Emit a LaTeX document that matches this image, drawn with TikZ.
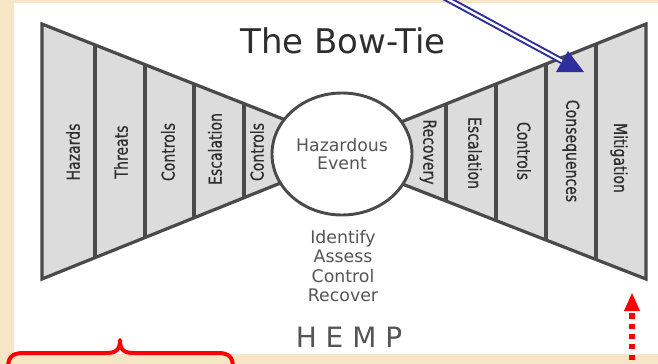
\documentclass[tikz,border=0pt]{standalone}
\usepackage{fontspec}
\setmainfont{DejaVu Sans}
\newfontfamily\narrowface{DejaVu Sans}[FakeStretch=0.78,FakeBold=0.6]
\usetikzlibrary{shapes.geometric}

\definecolor{paper}{HTML}{F6E6C6}
\definecolor{ink}{HTML}{4A4A4A}
\definecolor{bowfill}{HTML}{DCDCDC}
\definecolor{txt}{HTML}{2E2E2E}
\definecolor{softtxt}{HTML}{555555}
\definecolor{navy}{HTML}{2E2E9C}

\begin{document}
\begin{tikzpicture}[x=0.75pt,y=-0.75pt,
  bowline/.style={draw=ink,line width=2.4pt,line join=miter},
  divider/.style={draw=ink,line width=2.4pt},
  strip/.style={text=txt,font=\narrowface\fontsize{13.5}{15}\selectfont,inner sep=0pt},
  caption/.style={text=softtxt,inner sep=0pt,anchor=base},
  blueshaft/.style={navy,line width=1.5pt,double=white,double distance=1.8pt},
  redbrace/.style={red,line width=3pt,line cap=round,line join=round},
  reddots/.style={red,line width=4.2pt,dash pattern=on 3.9pt off 3.8pt}]

\useasboundingbox (0,0) rectangle (658,364);
\clip (0,0) rectangle (658,364);

% page and white panel
\fill[paper] (0,0) rectangle (658,364);
\fill[white] (14,3) rectangle (662,354);

% left wedge: causes side
\def\leftwedge{(42,24) -- (300,125.7) -- (300,175.2) -- (42,279) -- cycle}
\fill[bowfill] \leftwedge;
\begin{scope}
  \clip \leftwedge;
  \foreach \x in {95,145,194,244} \draw[divider] (\x,0) -- (\x,364);
\end{scope}
\draw[bowline] \leftwedge;

% right wedge: consequences side
\def\rightwedge{(646,24) -- (390,126.4) -- (390,179.2) -- (646,279) -- cycle}
\fill[bowfill] \rightwedge;
\begin{scope}
  \clip \rightwedge;
  \foreach \x in {446,496,546,596} \draw[divider] (\x,0) -- (\x,364);
\end{scope}
\draw[bowline] \rightwedge;

% central event
\node[ellipse,draw=ink,line width=2.2pt,fill=white,
      minimum width=105pt,minimum height=91.5pt,inner sep=0pt,
      text=softtxt,align=center,font=\fontsize{13}{13.5}\selectfont]
  (event) at (342,154) {Hazardous\\Event};

% strip labels
\node[strip,rotate=90] (hazards)  at (73,152)  {Hazards};
\node[strip,rotate=90] (threats)  at (121,152) {Threats};
\node[strip,rotate=90] (ctrlA)    at (168,152) {Controls};
\node[strip,rotate=90] (escA)     at (215,149) {Escalation};
\node[strip,rotate=90] (ctrlB)    at (257,152) {Controls};

\node[strip,rotate=-90] (recovery) at (428,152) {Recovery};
\node[strip,rotate=-90] (escB)     at (475,153) {Escalation};
\node[strip,rotate=-90] (ctrlC)    at (524,151) {Controls};
\node[strip,rotate=-90] (conseq)   at (571,151) {Consequences};
\node[strip,rotate=-90] (mitig)    at (619,158) {Mitigation};

% title and captions
\node[text=txt,inner sep=0pt,anchor=base,font=\fontsize{25.5}{28}\selectfont]
  (title) at (343,53) {The Bow-Tie};
\node[caption,font=\fontsize{13}{14}\selectfont] (identify) at (343,243) {Identify};
\node[caption,font=\fontsize{13}{14}\selectfont] (assess)   at (343,262) {Assess};
\node[caption,font=\fontsize{13}{14}\selectfont] (control)  at (343,282) {Control};
\node[caption,font=\fontsize{13}{14}\selectfont] (recover)  at (343,301) {Recover};
\node[caption,font=\fontsize{21}{24}\selectfont] (hemp)     at (349,347) {H E M P};

% blue pointer onto the consequences strip
\coordinate (bluestart) at (440,-5);
\coordinate (bluetip) at (562,61);
\draw[blueshaft] (bluestart) -- (bluetip);
\fill[navy] (568,51) -- (584,72) -- (556,72) -- cycle;

% red brace under the causes side
\coordinate (braceL) at (8,368);
\coordinate (braceR) at (233,368);
\draw[redbrace] (braceL) .. controls (8,357) and (12,353) .. (24,353)
  -- (106,353) .. controls (116,353) and (120,350) .. (120,340)
  .. controls (120,350) and (124,353) .. (134,353)
  -- (218,353) .. controls (229,353) and (233,357) .. (braceR);

% red dotted pointer up to the mitigation strip
\coordinate (redfoot) at (632,370);
\coordinate (redtop) at (632,311);
\draw[reddots] (redfoot) -- (redtop);
\fill[red] (632,293) -- (640,311) -- (624,311) -- cycle;

\end{tikzpicture}
\end{document}
